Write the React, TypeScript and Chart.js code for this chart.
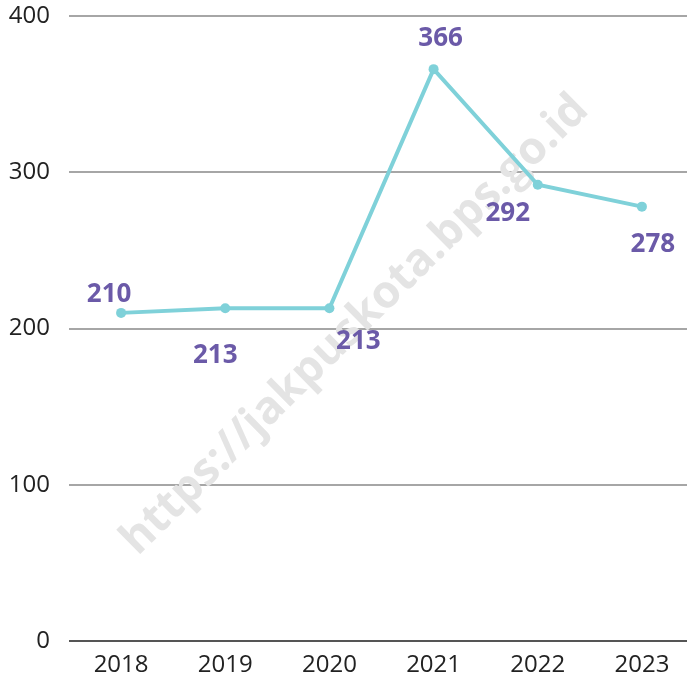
import React, { useEffect, useRef } from "react";
import { Chart, registerables } from "chart.js";

Chart.register(...registerables);

const categories = ["2018", "2019", "2020", "2021", "2022", "2023"];
const values = [210, 213, 213, 366, 292, 278];
const yTicks = [0, 100, 200, 300, 400];
const watermarkText = "https://jakpuskota.bps.go.id";

// label placement relative to each point (dx, dy) in px
const labelDx = [-12, -10, 29, 7, -30, 11];
const labelDy = [-18, 47, 33, -31, 29, 38];

const LINE_COLOR = "#7fd1d9";
const LABEL_COLOR = "#6b5aa8";

export default function App() {
  const canvasRef = useRef<HTMLCanvasElement | null>(null);

  useEffect(() => {
    document.body.style.margin = "0";
    const canvas = canvasRef.current;
    if (!canvas) return;

    const watermarkPlugin = {
      id: "watermark",
      beforeDatasetsDraw(chart: any) {
        const ctx = chart.ctx;
        ctx.save();
        ctx.translate(355, 325);
        ctx.rotate(-44.5 * Math.PI / 180);
        ctx.font = "bold 45px 'Open Sans'";
        ctx.fillStyle = "#e4e4e4";
        ctx.textAlign = "center";
        ctx.textBaseline = "middle";
        ctx.fillText(watermarkText, 0, 0);
        ctx.restore();
      },
    };

    const labelPlugin = {
      id: "pointLabels",
      afterDatasetsDraw(chart: any) {
        const ctx = chart.ctx;
        const meta = chart.getDatasetMeta(0);
        ctx.save();
        ctx.font = "bold 26px 'Open Sans'";
        ctx.fillStyle = LABEL_COLOR;
        ctx.textAlign = "center";
        ctx.textBaseline = "middle";
        meta.data.forEach((pt: any, i: number) => {
          ctx.fillText(String(values[i]), pt.x + labelDx[i], pt.y + labelDy[i]);
        });
        ctx.restore();
      },
    };

    const chart = new Chart(canvas, {
      type: "line",
      data: {
        labels: categories,
        datasets: [
          {
            data: values,
            borderColor: LINE_COLOR,
            backgroundColor: LINE_COLOR,
            borderWidth: 4,
            pointRadius: 5,
            pointHoverRadius: 5,
            pointBackgroundColor: LINE_COLOR,
            pointBorderWidth: 0,
            tension: 0,
          },
        ],
      },
      options: {
        responsive: false,
        animation: false,
        layout: { padding: { top: 0, right: 0, left: 0, bottom: 0 } },
        plugins: { legend: { display: false }, tooltip: { enabled: false } },
        scales: {
          x: {
            offset: true,
            grid: { display: false, drawTicks: false },
            border: { display: false },
            ticks: {
              color: "#222",
              font: { family: "'Open Sans'", size: 24 },
              padding: 10,
              maxRotation: 0,
            },
            afterFit: (s: any) => {
              s.height = 37;
            },
          },
          y: {
            min: 0,
            max: 400,
            afterBuildTicks: (s: any) => {
              s.ticks = yTicks.map((v) => ({ value: v }));
            },
            grid: {
              drawTicks: false,
              lineWidth: 2,
              color: (c: any) => (c.tick && c.tick.value === 0 ? "#555555" : "#a6a6a6"),
            },
            border: { display: false },
            ticks: {
              color: "#222",
              font: { family: "'Open Sans'", size: 24 },
              padding: 19,
            },
            afterFit: (s: any) => {
              s.width = 69;
              s.paddingTop = 16;
              s.paddingBottom = 0;
            },
          },
        },
      },
      plugins: [watermarkPlugin, labelPlugin],
    });

    return () => chart.destroy();
  }, []);

  return (
    <div style={{ width: 687, height: 678, overflow: "hidden" }}>
      <canvas ref={canvasRef} width={699} height={678} style={{ display: "block", width: 699, height: 678 }} />
    </div>
  );
}
